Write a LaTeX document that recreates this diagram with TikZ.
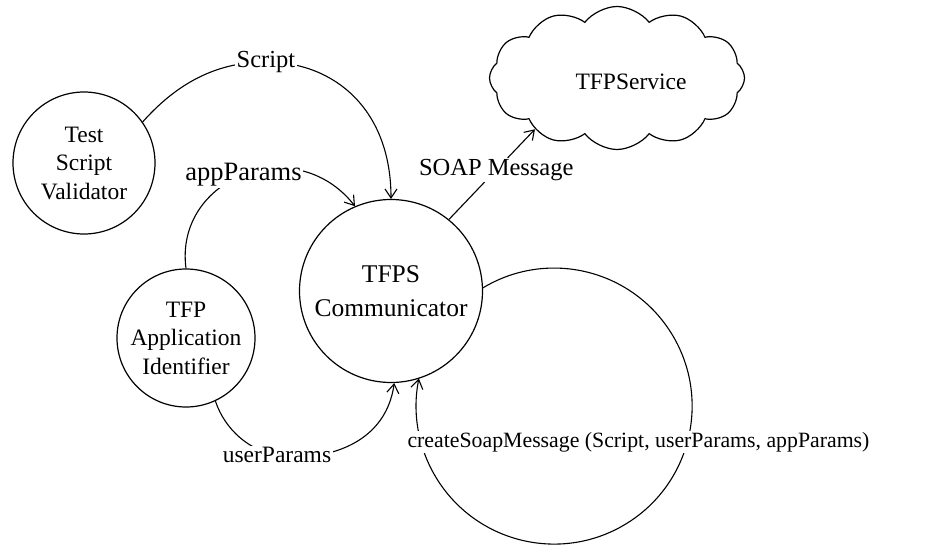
\documentclass[tikz,border=0pt]{standalone}
\usepackage{fontspec}
\setmainfont{Liberation Serif}
\usetikzlibrary{arrows.meta,shapes.symbols}
\newcommand{\fsz}[2]{\fontsize{#1}{#2}\selectfont}
\begin{document}
\begin{tikzpicture}[x=1pt,y=1pt,
  font=\fsz{23.5}{28.5},
  proc/.style={circle,draw,line width=1.2pt,inner sep=0pt,align=center},
  flow/.style={line width=1.1pt,-{Straight Barb[length=9pt,width=12pt,line width=1.1pt]}},
  lbl/.style={fill=white,inner sep=1.5pt}]
\useasboundingbox (0,0) rectangle (930,550);
\fill[white] (0,0) rectangle (930,550);
% processes
\node[proc,minimum size=142pt] (val) at (84,387) {Test\\Script\\Validator};
\node[proc,minimum size=138pt] (app) at (186,212) {TFP\\Application\\Identifier};
\node[proc,minimum size=183pt,font=\fsz{25.5}{34}] (comm) at (391,259) {TFPS\\Communicator};
\node[cloud,draw,line width=1.2pt,cloud puffs=12,cloud puff arc=105,aspect=1.8,
      minimum width=255pt,minimum height=143pt] (cloud) at (617,472) {};
\node (svc) at (631,468) {TFPService};
% label anchor coordinates
\coordinate (sc) at (266,488);
\coordinate (up) at (277,95);
% Script
\draw[flow] (val.35) .. controls (180,470) and (220,488) .. (sc)
  .. controls (335,488) and (391,440) .. (comm.north);
\node[lbl,font=\fsz{24.5}{29}] (scl) at (sc) {Script};
% appParams
\draw[flow] (app.north) .. controls (174,372) and (295,420) .. (comm.113)
  node[lbl,pos=0.5,font=\fsz{26.5}{30}] (apl) {appParams};
% userParams
\draw[flow] (app.-65) .. controls (225,120) and (250,99) .. (up)
  .. controls (315,88) and (385,100) .. (comm.-88);
\node[lbl] (upl) at (up) {userParams};
% SOAP message
\draw[flow] (comm.51) -- (cloud.212)
  node[lbl,pos=0.55,font=\fsz{24.5}{29}] (soap) {SOAP Message};
% self loop
\draw[flow] (comm.2) arc[start angle=121,end angle=-191.5,radius=138];
\node[lbl,font=\fsz{21.8}{26}] (csm) at (638.5,108) {createSoapMessage (Script, userParams, appParams)};
\end{tikzpicture}
\end{document}
